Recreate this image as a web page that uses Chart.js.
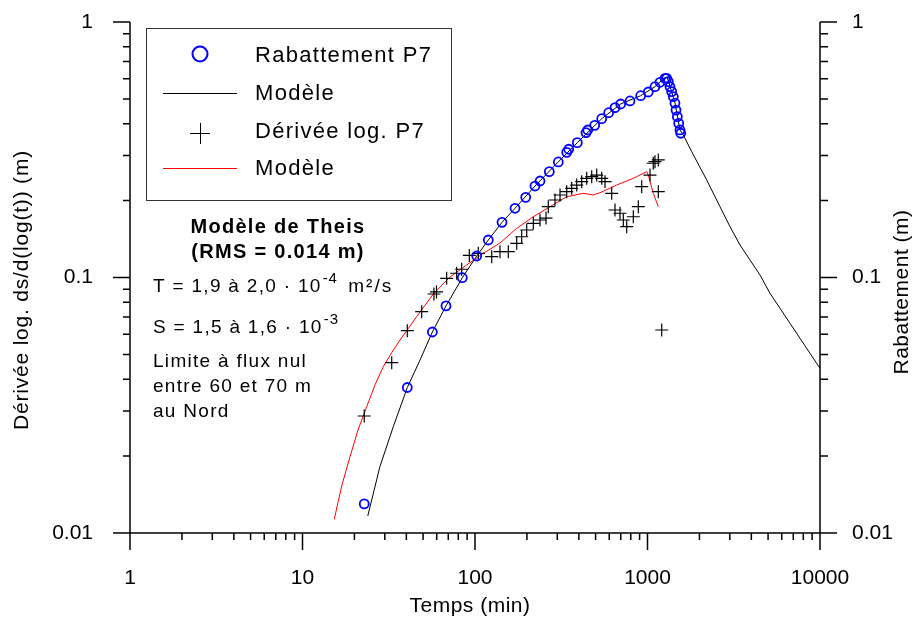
<!DOCTYPE html>
<html>
<head>
<meta charset="utf-8">
<script src="https://cdn.jsdelivr.net/npm/chart.js@4.4.1/dist/chart.umd.min.js"></script>
<style>
  html, body { margin: 0; padding: 0; background: #fff; }
  #wrap { width: 917px; height: 637px; }
</style>
</head>
<body>
<div id="wrap"><canvas id="chart" width="917" height="637"></canvas></div>
<script>
const xTicks = [1, 10, 100, 1000, 10000];
const yTicks = [0.01, 0.1, 1];

// Rabattement P7 (m) against time (min)
const tRab = [22.8, 40.5, 56.6, 67.9, 84.4, 102.3, 119.4, 143.4, 170.6, 196.8, 222.7, 238.2, 269.6, 304.0,
  340.1, 349.3, 391.7, 440.1, 450.2, 494.2, 542.6, 595.8, 648.0, 699.2, 791.8, 913.1, 1010.7, 1105, 1181,
  1263, 1292, 1320, 1350, 1381, 1411, 1443, 1463, 1489, 1517, 1543, 1558];
const sRab = [0.0130, 0.0371, 0.0612, 0.0774, 0.0998, 0.1214, 0.1402, 0.1644, 0.1866, 0.206, 0.228, 0.2386,
  0.2595, 0.2833, 0.309, 0.3176, 0.337, 0.3687, 0.3778, 0.394, 0.4183, 0.4416, 0.462, 0.4777, 0.4908, 0.5147,
  0.5322, 0.5582, 0.5808, 0.602, 0.602, 0.584, 0.558, 0.534, 0.510, 0.481, 0.452, 0.426, 0.401, 0.378, 0.367];

// Modele (rabattement)
const tModel = [23.9, 28.1, 33.6, 40.5, 48.0, 56.6, 67.9, 84.4, 102.3, 119.4, 143.4, 170.6, 222.7, 304, 391.7,
  542.6, 699.2, 913.1, 1105, 1246, 1300, 1350, 1443, 1543, 1613, 1804, 2204, 2632, 3008, 3437, 3928, 4489,
  5130, 5863, 6700, 7657, 8750, 10000];
const sModel = [0.01166, 0.01818, 0.02606, 0.0371, 0.0475, 0.0612, 0.0774, 0.0998, 0.1214, 0.1402, 0.1644,
  0.1866, 0.228, 0.2833, 0.337, 0.4183, 0.4777, 0.5147, 0.5582, 0.6036, 0.608, 0.5616, 0.482, 0.378, 0.3612,
  0.3108, 0.2408, 0.1893, 0.1581, 0.1341, 0.1171, 0.1023, 0.0867, 0.0758, 0.0662, 0.0578, 0.0505, 0.0441];

// Derivee log. P7
const tDer = [22.8, 32.9, 40.5, 49.1, 57.8, 59.8, 68.5, 78.3, 83.7, 92.7, 104.5, 125.0, 139.6, 156.0, 174.5,
  186.5, 199.4, 217.8, 238.2, 258, 266.1, 290.9, 311.1, 340.1, 363.6, 388.7, 415.6, 444.2, 474.9, 507.7, 542.6,
  567.1, 620.1, 648, 692.8, 724.1, 757.7, 827.5, 884.6, 925.5, 1034, 1080, 1105, 1155, 1155, 1209];
const dDer = [0.0287, 0.0464, 0.0619, 0.0735, 0.0862, 0.0878, 0.0993, 0.1039, 0.1077, 0.1220, 0.1243, 0.1206,
  0.1262, 0.1262, 0.1361, 0.1444, 0.1534, 0.163, 0.1679, 0.1709, 0.1893, 0.2011, 0.2103, 0.2167, 0.2234, 0.2301,
  0.2371, 0.2445, 0.248, 0.2518, 0.2445, 0.2371, 0.2135, 0.1837, 0.1784, 0.1679, 0.1581, 0.1729, 0.1893, 0.2267,
  0.2518, 0.28, 0.2839, 0.2884, 0.2167, 0.0623];

// Modele (derivee)
const tDerModel = [15.29, 16.1, 16.94, 17.9, 18.86, 20.98, 23.56, 26.33, 29.4, 32.9, 36.75, 45.92, 57.33, 71.64,
  89.5, 111.7, 139.6, 174.5, 217.8, 272.2, 340.1, 424.5, 485.2, 530.4, 662.9, 827.5, 989.5, 1010.7, 1080, 1155];
const dDerModel = [0.01131, 0.0133, 0.01541, 0.0176, 0.01989, 0.0253, 0.0312, 0.0380, 0.0448, 0.0508, 0.0569,
  0.0703, 0.0862, 0.1005, 0.1119, 0.1243, 0.1365, 0.1558, 0.1729, 0.1893, 0.2071, 0.2135, 0.2103, 0.2147,
  0.2301, 0.2445, 0.2595, 0.2518, 0.2135, 0.1893];

const FONT = '"Liberation Sans", Arial, sans-serif';
const pts = (xs, ys) => xs.map((x, i) => ({ x: x, y: ys[i] }));
const isDecade = v => Math.abs(Math.log10(v) - Math.round(Math.log10(v))) < 1e-9;
const decadeLabel = v => isDecade(v) ? String(v) : '';

function txt(ctx, s, x, y, size, opts) {
  opts = opts || {};
  ctx.font = (opts.bold ? 'bold ' : '') + size + 'px ' + FONT;
  ctx.letterSpacing = (opts.spacing || 0) + 'px';
  ctx.textAlign = opts.align || 'left';
  ctx.textBaseline = opts.baseline || 'alphabetic';
  ctx.fillStyle = opts.color || '#000';
  ctx.fillText(s, x, y);
  return ctx.measureText(s).width;
}

const decorations = {
  id: 'decorations',
  afterDraw(chart) {
    const ctx = chart.ctx;
    const a = chart.chartArea;
    const sx = chart.scales.x, sy = chart.scales.y;
    ctx.save();

    // axes and tick marks
    ctx.strokeStyle = '#000';
    ctx.lineWidth = 1.5;
    ctx.beginPath();
    ctx.moveTo(a.left, a.top); ctx.lineTo(a.left, a.bottom);
    ctx.moveTo(a.right, a.top); ctx.lineTo(a.right, a.bottom);
    ctx.moveTo(a.left, a.bottom); ctx.lineTo(a.right, a.bottom);
    xTicks.forEach((t, k) => {
      const p = sx.getPixelForValue(t);
      ctx.moveTo(p, a.bottom); ctx.lineTo(p, a.bottom + 17);
      if (k < xTicks.length - 1) {
        for (let m = 2; m < 10; m++) {
          const q = sx.getPixelForValue(t * m);
          ctx.moveTo(q, a.bottom); ctx.lineTo(q, a.bottom + 7);
        }
      }
    });
    yTicks.forEach((t, k) => {
      const p = sy.getPixelForValue(t);
      ctx.moveTo(a.left, p); ctx.lineTo(a.left - 17, p);
      ctx.moveTo(a.right, p); ctx.lineTo(a.right + 17, p);
      if (k < yTicks.length - 1) {
        for (let m = 2; m < 10; m++) {
          const q = sy.getPixelForValue(t * m);
          ctx.moveTo(a.left, q); ctx.lineTo(a.left - 7, q);
          ctx.moveTo(a.right, q); ctx.lineTo(a.right + 8, q);
        }
      }
    });
    ctx.stroke();

    // axis titles
    txt(ctx, 'Temps (min)', 470, 612, 21, { align: 'center', spacing: 0.5 });
    ctx.save();
    ctx.translate(22, 290);
    ctx.rotate(-Math.PI / 2);
    txt(ctx, 'Dérivée log. ds/d(log(t)) (m)', 0, 0, 21, { align: 'center', baseline: 'middle', spacing: 0.8 });
    ctx.restore();
    ctx.save();
    ctx.translate(902, 292);
    ctx.rotate(-Math.PI / 2);
    txt(ctx, 'Rabattement (m)', 0, 0, 21, { align: 'center', baseline: 'middle', spacing: 0.5 });
    ctx.restore();

    // legend box
    ctx.lineWidth = 1;
    ctx.strokeStyle = '#333';
    ctx.strokeRect(146.5, 28.5, 305, 172);
    ctx.strokeStyle = '#0000ff';
    ctx.lineWidth = 2;
    ctx.beginPath(); ctx.arc(200, 54, 7.5, 0, Math.PI * 2); ctx.stroke();
    ctx.lineWidth = 1;
    ctx.strokeStyle = '#000';
    ctx.beginPath(); ctx.moveTo(163, 93.5); ctx.lineTo(237, 93.5); ctx.stroke();
    ctx.beginPath();
    ctx.moveTo(190, 133.5); ctx.lineTo(210, 133.5);
    ctx.moveTo(200.5, 123); ctx.lineTo(200.5, 144);
    ctx.stroke();
    ctx.strokeStyle = '#ff0000';
    ctx.beginPath(); ctx.moveTo(163, 168.5); ctx.lineTo(237, 168.5); ctx.stroke();
    txt(ctx, 'Rabattement P7', 255, 62, 22, { spacing: 1.3 });
    txt(ctx, 'Modèle', 255, 100, 22, { spacing: 1.3 });
    txt(ctx, 'Dérivée log. P7', 255, 138, 22, { spacing: 1.3 });
    txt(ctx, 'Modèle', 255, 174.5, 22, { spacing: 1.3 });

    // annotation
    txt(ctx, 'Modèle de Theis', 278, 233, 20, { bold: true, align: 'center', spacing: 1.3 });
    txt(ctx, '(RMS = 0.014 m)', 278, 258, 20, { bold: true, align: 'center', spacing: 1.3 });
    let w = txt(ctx, 'T = 1,9 à 2,0 · 10', 153, 292, 19, { spacing: 1.3 });
    let w2 = txt(ctx, '-4', 153 + w + 1, 283, 15, { spacing: 1 });
    txt(ctx, ' m²/s', 153 + w + w2 + 4, 292, 19, { spacing: 2 });
    w = txt(ctx, 'S = 1,5 à 1,6 · 10', 153, 333, 19, { spacing: 1.3 });
    txt(ctx, '-3', 153 + w + 1, 324, 15, { spacing: 1 });
    txt(ctx, 'Limite à flux nul', 153, 366.5, 19, { spacing: 1.3 });
    txt(ctx, 'entre 60 et 70 m', 153, 391.5, 19, { spacing: 1.3 });
    txt(ctx, 'au Nord', 153, 416.5, 19, { spacing: 1.3 });

    ctx.restore();
  }
};

const tickFont = { family: FONT, size: 21 };
const fitV = w => s => { s.width = w; s.paddingTop = 0; s.paddingBottom = 0; };

new Chart(document.getElementById('chart').getContext('2d'), {
  type: 'scatter',
  data: {
    datasets: [
      {
        label: 'Rabattement P7',
        data: pts(tRab, sRab),
        yAxisID: 'y2',
        pointStyle: 'circle',
        pointRadius: 4.5,
        borderColor: '#0000ff',
        backgroundColor: 'rgba(0,0,0,0)',
        borderWidth: 1.8,
        showLine: false
      },
      {
        label: 'Modèle',
        data: pts(tModel, sModel),
        yAxisID: 'y2',
        showLine: true,
        pointRadius: 0,
        borderColor: '#000',
        borderWidth: 1,
        tension: 0
      },
      {
        label: 'Dérivée log. P7',
        data: pts(tDer, dDer),
        yAxisID: 'y',
        pointStyle: 'cross',
        pointRadius: 6.5,
        borderColor: '#000',
        borderWidth: 1.2,
        showLine: false
      },
      {
        label: 'Modèle',
        data: pts(tDerModel, dDerModel),
        yAxisID: 'y',
        showLine: true,
        pointRadius: 0,
        borderColor: '#ff0000',
        borderWidth: 1,
        tension: 0
      }
    ]
  },
  options: {
    responsive: false,
    animation: false,
    layout: { padding: { top: 22, left: 0, right: 0, bottom: 0 }, autoPadding: false },
    plugins: { legend: { display: false }, tooltip: { enabled: false } },
    scales: {
      x: {
        type: 'logarithmic', position: 'bottom', min: 1, max: 10000,
        grid: { display: false, drawTicks: false }, border: { display: false },
        ticks: { autoSkip: false, maxRotation: 0, padding: 33, color: '#000', font: tickFont, callback: decadeLabel },
        afterFit: s => { s.height = 104; s.paddingLeft = 0; s.paddingRight = 0; }
      },
      y: {
        type: 'logarithmic', position: 'left', min: 0.01, max: 1,
        grid: { display: false, drawTicks: false }, border: { display: false },
        ticks: { autoSkip: false, padding: 37, color: '#000', font: tickFont, callback: decadeLabel },
        afterFit: fitV(130)
      },
      y2: {
        type: 'logarithmic', position: 'right', min: 0.01, max: 1,
        grid: { display: false, drawTicks: false }, border: { display: false },
        ticks: { autoSkip: false, padding: 32, color: '#000', font: tickFont, callback: decadeLabel },
        afterFit: fitV(97)
      }
    }
  },
  plugins: [decorations]
});
</script>
</body>
</html>
